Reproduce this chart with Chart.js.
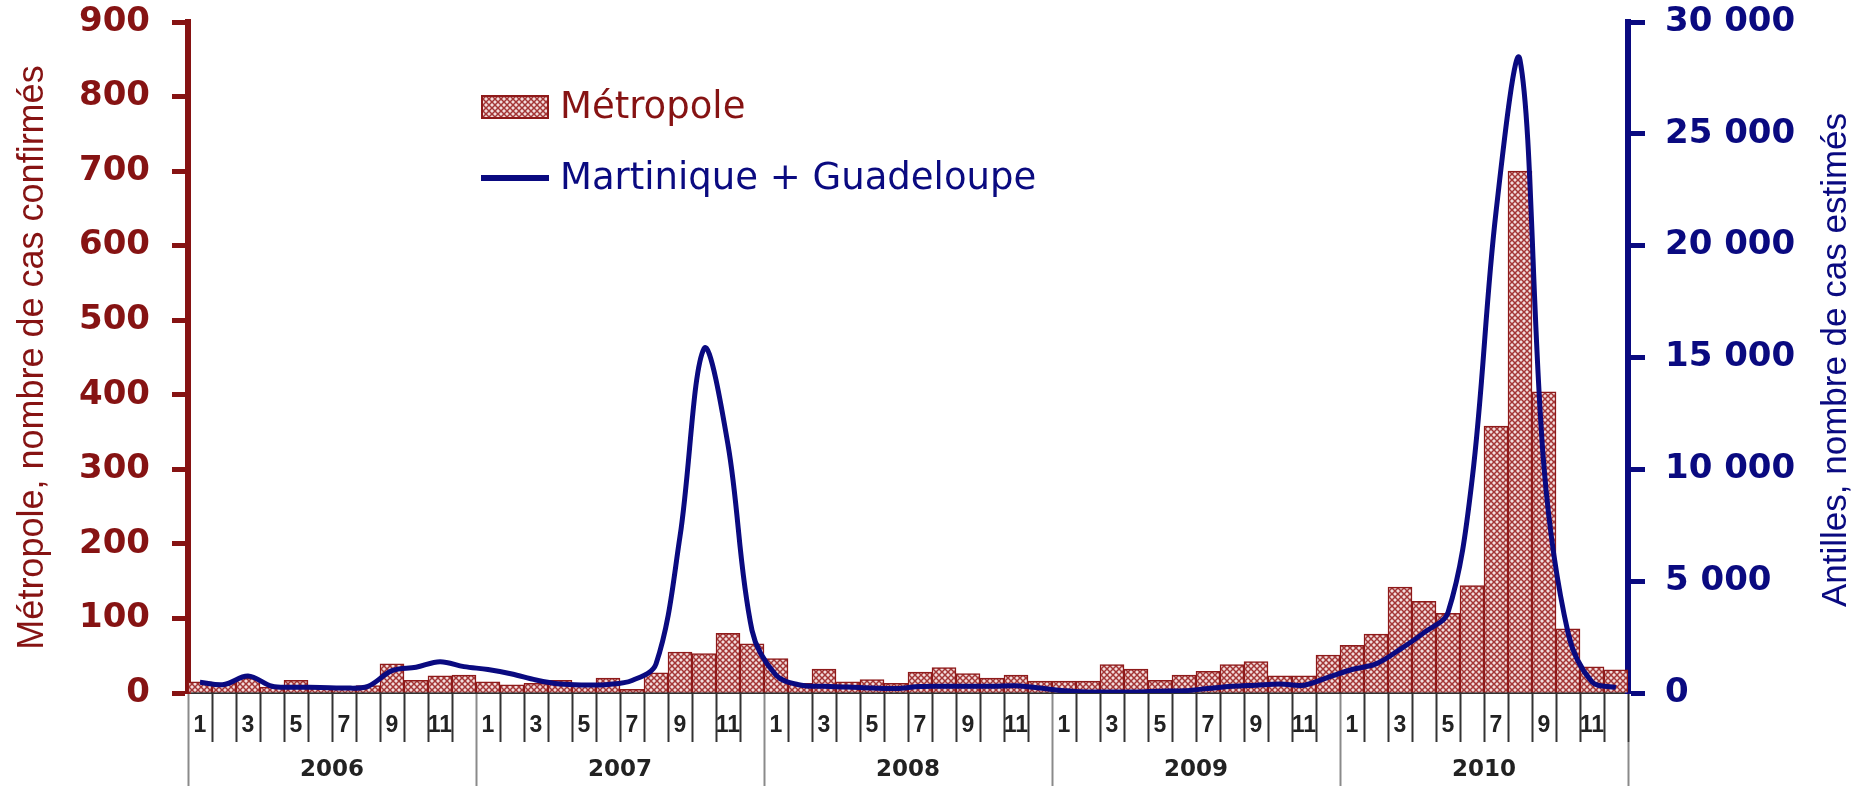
<!DOCTYPE html>
<html>
<head>
<meta charset="utf-8">
<script src="https://cdn.jsdelivr.net/npm/chart.js@4.4.1/dist/chart.umd.min.js"></script>
<style>
  html, body { margin: 0; padding: 0; background: #fff; }
  canvas { display: block; }
</style>
</head>
<body>
<canvas id="chart" width="1862" height="786"></canvas>
<script>
const years = ['2006', '2007', '2008', '2009', '2010'];
const monthTicks = ['1', '', '3', '', '5', '', '7', '', '9', '', '11', ''];

// Métropole : cas confirmés par mois (axe gauche)
const metropole = [
  15, 13, 20, 8, 17, 7, 8, 10, 39, 17, 23, 24,
  15, 11, 13, 17, 12, 20, 5, 27, 55, 53, 80, 66,
  46, 13, 32, 15, 18, 13, 28, 34, 26, 20, 24, 16,
  16, 16, 38, 32, 17, 24, 29, 38, 42, 23, 23, 51,
  64, 79, 142, 123, 107, 144, 358, 700, 404, 86, 35, 31
];

// Martinique + Guadeloupe : cas estimés par mois (axe droit)
const antilles = [
  480, 380, 760, 300, 260, 250, 220, 300, 1000, 1150, 1400, 1180,
  1050, 850, 580, 400, 360, 380, 560, 1300, 7000, 15400, 11100, 2800,
  800, 360, 300, 270, 220, 200, 290, 300, 300, 300, 320, 220,
  100, 50, 50, 50, 80, 100, 200, 300, 350, 400, 350, 700,
  1050, 1300, 1950, 2700, 3600, 9500, 21500, 28300, 10100, 2700, 500, 250
];

const RED = '#861313';
const NAVY = '#0a0a80';

const categories = [];
years.forEach(() => monthTicks.forEach(m => categories.push(m)));

// crosshatch fill like the original bars
function hatch() {
  const c = document.createElement('canvas');
  c.width = 6;
  c.height = 6;
  const g = c.getContext('2d');
  g.fillStyle = '#f2dcdc';
  g.fillRect(0, 0, 6, 6);
  g.strokeStyle = '#a33535';
  g.lineWidth = 1.5;
  g.beginPath();
  g.moveTo(0, 0); g.lineTo(6, 6);
  g.moveTo(6, 0); g.lineTo(0, 6);
  g.stroke();
  return g.createPattern(c, 'repeat');
}
const pattern = hatch();

const spaced = v => String(v).replace(/\B(?=(\d{3})+(?!\d))/g, ' ');

// keep the plot box where the original has it
function fixY(width) {
  return s => {
    s.width = width;
    s.paddingTop = 0;
    s.paddingBottom = 0;
  };
}

// legend inside the plot + right title reading bottom to top
const overlayPlugin = {
  id: 'overlay',
  afterDraw(chart) {
    const ctx = chart.ctx;
    const bars = chart.data.datasets[1];
    const line = chart.data.datasets[0];
    ctx.save();
    ctx.font = '37px "DejaVu Sans"';
    ctx.textBaseline = 'middle';
    ctx.textAlign = 'left';

    ctx.fillStyle = pattern;
    ctx.fillRect(481, 95, 68, 24);
    ctx.strokeStyle = bars.borderColor;
    ctx.lineWidth = 2;
    ctx.strokeRect(482, 96, 66, 22);
    ctx.fillStyle = RED;
    ctx.fillText(bars.label, 560, 108);

    ctx.strokeStyle = line.borderColor;
    ctx.lineWidth = 6;
    ctx.beginPath();
    ctx.moveTo(481, 178);
    ctx.lineTo(549, 178);
    ctx.stroke();
    ctx.fillStyle = NAVY;
    ctx.fillText(line.label, 560, 179);

    ctx.font = '35px "Liberation Sans"';
    ctx.textAlign = 'center';
    ctx.translate(1836, 360);
    ctx.rotate(-Math.PI / 2);
    ctx.fillStyle = NAVY;
    ctx.fillText('Antilles, nombre de cas estimés', 0, 0);
    ctx.restore();
  }
};

new Chart(document.getElementById('chart'), {
  data: {
    labels: categories,
    datasets: [
      {
        type: 'line',
        label: 'Martinique + Guadeloupe',
        data: antilles,
        xAxisID: 'x',
        yAxisID: 'y1',
        borderColor: NAVY,
        borderWidth: 5,
        pointRadius: 0,
        tension: 0.35,
        fill: false,
        order: 0
      },
      {
        type: 'bar',
        label: 'Métropole',
        data: metropole,
        xAxisID: 'x',
        yAxisID: 'y',
        backgroundColor: pattern,
        borderColor: '#8e1a1a',
        borderWidth: 1.5,
        barPercentage: 1,
        categoryPercentage: 1,
        order: 1
      }
    ]
  },
  plugins: [overlayPlugin],
  options: {
    responsive: false,
    animation: false,
    layout: { padding: { top: 22, left: 0, right: 0, bottom: 0 } },
    plugins: {
      legend: { display: false },
      tooltip: { enabled: false }
    },
    scales: {
      x: {
        type: 'category',
        position: 'bottom',
        weight: 0,
        offset: true,
        grid: {
          offset: true,
          drawOnChartArea: false,
          tickLength: 49,
          tickWidth: 2,
          tickColor: ctx => ctx.index % 12 === 0 ? '#8a8a8a' : '#333'
        },
        border: { display: true, color: '#333', width: 2 },
        ticks: {
          autoSkip: false,
          maxRotation: 0,
          minRotation: 0,
          padding: -30,
          color: '#222',
          font: { family: 'Liberation Sans', size: 23, weight: 'bold' }
        },
        afterFit: s => { s.height = 49; }
      },
      x2: {
        type: 'category',
        labels: years,
        position: 'bottom',
        weight: 1,
        offset: true,
        grid: {
          offset: true,
          drawOnChartArea: false,
          tickLength: 44,
          tickWidth: 2,
          tickColor: '#8a8a8a'
        },
        border: { display: false },
        ticks: {
          autoSkip: false,
          maxRotation: 0,
          padding: -30,
          color: '#222',
          font: { family: 'DejaVu Sans', size: 23, weight: 'bold' }
        },
        afterFit: s => { s.height = 44; }
      },
      y: {
        position: 'left',
        min: 0,
        max: 900,
        z: 1,
        grid: {
          drawOnChartArea: false,
          tickLength: 16,
          tickWidth: 5,
          tickColor: RED
        },
        border: { color: RED, width: 6 },
        ticks: {
          stepSize: 100,
          padding: 22,
          color: RED,
          font: { family: 'DejaVu Sans', size: 34, weight: 'bold' }
        },
        title: {
          display: true,
          text: 'Métropole, nombre de cas confirmés',
          color: RED,
          padding: { top: 11, bottom: 0 },
          font: { family: 'Liberation Sans', size: 36 }
        },
        afterFit: fixY(188)
      },
      y1: {
        position: 'right',
        min: 0,
        max: 30000,
        z: 1,
        grid: {
          drawOnChartArea: false,
          tickLength: 17,
          tickWidth: 5,
          tickColor: NAVY
        },
        border: { color: NAVY, width: 6 },
        ticks: {
          stepSize: 5000,
          padding: 20,
          color: NAVY,
          font: { family: 'DejaVu Sans', size: 34, weight: 'bold' },
          callback: v => spaced(v)
        },
        afterFit: fixY(234)
      }
    }
  }
});
</script>
</body>
</html>
